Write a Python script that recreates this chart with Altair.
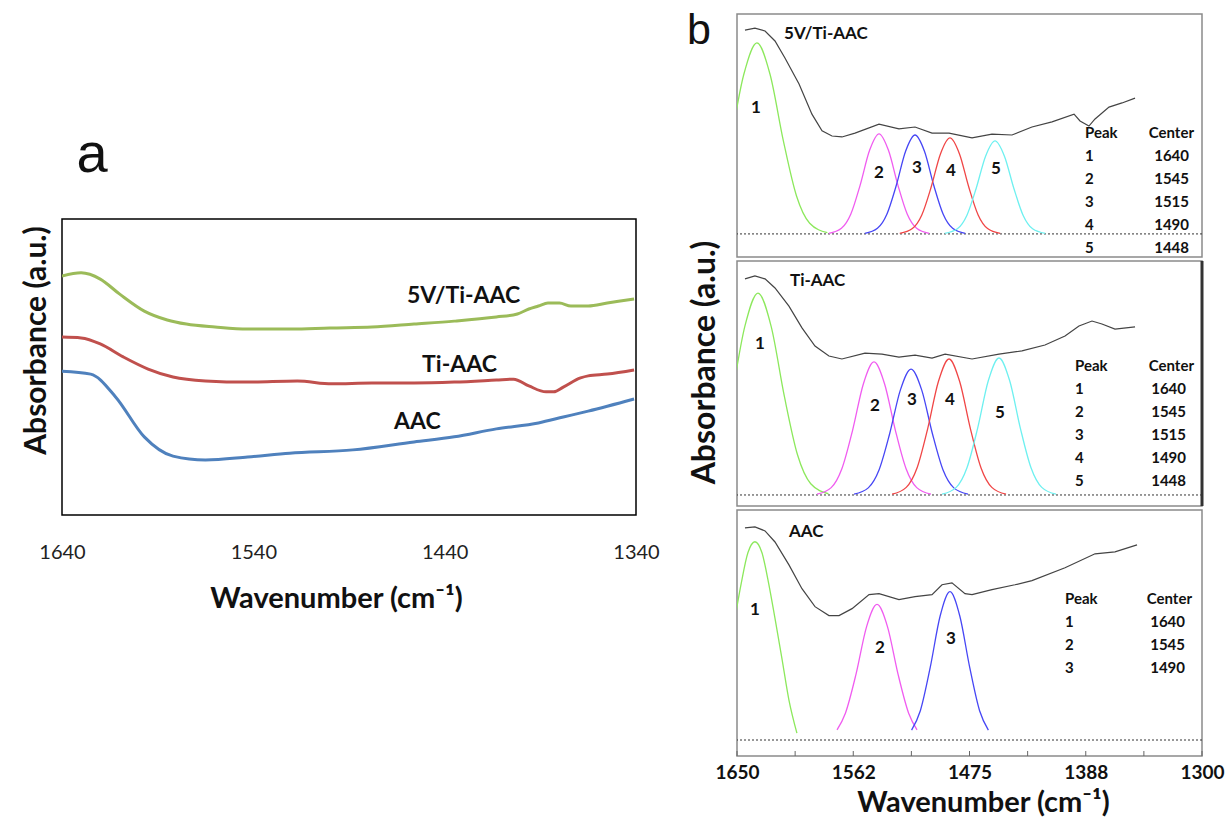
import altair as alt
import pandas as pd

FONT = "Lato"
LETTER_FONT = "Liberation Sans"
INK = "#111111"

# ---------------- panel a data ----------------
a_ticks = [1640, 1540, 1440, 1340]
a_names = ["5V/Ti-AAC", "Ti-AAC", "AAC"]
a_colors = ["#9BBB59", "#C0504D", "#4F81BD"]

a_wn_5v = [1640, 1630, 1620, 1610, 1597, 1585, 1575, 1560, 1543, 1520, 1500, 1478,
           1456, 1435, 1413, 1402, 1396, 1391, 1386, 1380, 1374, 1365, 1355, 1341]
a_abs_5v = [0.807, 0.818, 0.797, 0.747, 0.689, 0.659, 0.645, 0.635, 0.628, 0.628, 0.632, 0.635,
            0.645, 0.655, 0.669, 0.679, 0.696, 0.706, 0.716, 0.716, 0.706, 0.706, 0.716, 0.730]
a_wn_ti = [1640, 1630, 1620, 1608, 1595, 1582, 1565, 1543, 1517, 1499, 1478, 1456,
           1435, 1413, 1404, 1396, 1387, 1383, 1378, 1369, 1365, 1355, 1341]
a_abs_ti = [0.601, 0.598, 0.578, 0.534, 0.493, 0.466, 0.453, 0.449, 0.453, 0.443, 0.446, 0.446,
            0.449, 0.456, 0.459, 0.436, 0.416, 0.416, 0.432, 0.463, 0.470, 0.476, 0.490]
a_wn_aac = [1640, 1625, 1612, 1597, 1582, 1565, 1543, 1521, 1488, 1456, 1435, 1413,
            1391, 1378, 1365, 1341]
a_abs_aac = [0.486, 0.476, 0.399, 0.264, 0.199, 0.186, 0.196, 0.209, 0.220, 0.247, 0.264, 0.291,
             0.311, 0.331, 0.351, 0.392]

a_label_wn = [1459.7, 1451.8, 1466.5]
a_label_abs = [0.740, 0.507, 0.314]

# ---------------- panel b data ----------------
b_ticks = [1650, 1562.5, 1475, 1387.5, 1300]
b_tick_labels = ["1650", "1562", "1475", "1388", "1300"]
b_minor = [1650, 1606.25, 1562.5, 1518.75, 1475, 1431.25, 1387.5, 1343.75, 1300]
b_names = ["5V/Ti-AAC", "Ti-AAC", "AAC"]
b_name_wn = [1614.6, 1610.1, 1610.9]
b_name_abs = [0.918, 0.918, 0.911]
b_baselines = [0.095, 0.045, 0.065]
peak_colors = ["#8CE85C", "#F05CF0", "#4646F5", "#F04646", "#6EF0F0"]

top_wn = [1644.0, 1636.5, 1628.9, 1621.4, 1613.9, 1603.3, 1593.6, 1586.0, 1578.5, 1571.0,
          1561.2, 1543.1, 1528.1, 1516.0, 1503.2, 1490.4, 1473.1, 1458.1, 1443.0, 1428.0,
          1412.9, 1396.3, 1391.8, 1385.1, 1380.5, 1370.0, 1360.2, 1350.4]
top_abs = [0.934, 0.942, 0.930, 0.889, 0.819, 0.712, 0.588, 0.519, 0.498, 0.494,
           0.510, 0.547, 0.527, 0.535, 0.510, 0.510, 0.490, 0.506, 0.502, 0.535,
           0.556, 0.588, 0.560, 0.539, 0.568, 0.617, 0.634, 0.654]
mid_wn = [1644.0, 1636.5, 1628.9, 1621.4, 1610.9, 1601.1, 1591.3, 1580.8, 1571.0, 1553.7,
          1540.9, 1528.1, 1516.0, 1503.2, 1493.4, 1473.1, 1452.8, 1435.5, 1418.2, 1403.1,
          1392.6, 1382.8, 1375.3, 1365.5, 1350.4]
mid_abs = [0.927, 0.939, 0.927, 0.890, 0.816, 0.727, 0.653, 0.612, 0.600, 0.624,
           0.620, 0.608, 0.616, 0.604, 0.620, 0.600, 0.620, 0.633, 0.657, 0.694,
           0.735, 0.755, 0.743, 0.722, 0.731]
bot_wn = [1644.0, 1636.5, 1628.9, 1621.4, 1610.9, 1601.1, 1591.3, 1580.8, 1573.2, 1563.4,
          1550.6, 1543.1, 1528.1, 1516.0, 1503.2, 1495.7, 1488.2, 1478.4, 1473.1, 1458.1,
          1440.8, 1428.0, 1403.1, 1380.5, 1365.5, 1348.9]
bot_abs = [0.927, 0.931, 0.915, 0.870, 0.777, 0.680, 0.607, 0.571, 0.571, 0.599,
           0.656, 0.660, 0.636, 0.648, 0.656, 0.696, 0.704, 0.660, 0.656, 0.676,
           0.696, 0.713, 0.765, 0.822, 0.830, 0.858]

top_p1_wn = [1688.0, 1674.7, 1664.8, 1654.9, 1644.9, 1635.0, 1625.1, 1615.1, 1605.2, 1595.3, 1582.0]
top_p1_abs = [0.100, 0.139, 0.251, 0.478, 0.751, 0.881, 0.751, 0.478, 0.251, 0.139, 0.100]
top_p2_wn = [1580.9, 1571.4, 1564.3, 1557.3, 1550.2, 1543.1, 1536.0, 1528.9, 1521.9, 1514.8, 1505.3]
top_p2_abs = [0.097, 0.118, 0.177, 0.296, 0.439, 0.507, 0.439, 0.296, 0.177, 0.118, 0.097]
top_p3_wn = [1553.8, 1544.3, 1537.2, 1530.2, 1523.1, 1516.0, 1508.9, 1501.8, 1494.8, 1487.7, 1478.2]
top_p3_abs = [0.097, 0.118, 0.176, 0.293, 0.435, 0.502, 0.435, 0.293, 0.176, 0.118, 0.097]
top_p4_wn = [1527.5, 1518.0, 1510.9, 1503.9, 1496.8, 1489.7, 1482.6, 1475.5, 1468.5, 1461.4, 1451.9]
top_p4_abs = [0.097, 0.117, 0.173, 0.287, 0.425, 0.490, 0.425, 0.287, 0.173, 0.117, 0.097]
top_p5_wn = [1493.6, 1484.1, 1477.0, 1470.0, 1462.9, 1455.8, 1448.7, 1441.6, 1434.6, 1427.5, 1418.0]
top_p5_abs = [0.097, 0.116, 0.171, 0.282, 0.415, 0.478, 0.415, 0.282, 0.171, 0.116, 0.097]

mid_p1_wn = [1687.2, 1673.9, 1664.0, 1654.1, 1644.1, 1634.2, 1624.3, 1614.3, 1604.4, 1594.5, 1581.2]
mid_p1_abs = [0.050, 0.091, 0.208, 0.446, 0.733, 0.869, 0.733, 0.446, 0.208, 0.091, 0.050]
mid_p2_wn = [1589.8, 1579.1, 1571.0, 1563.0, 1554.9, 1546.9, 1538.9, 1530.8, 1522.8, 1514.7, 1504.0]
mid_p2_abs = [0.048, 0.075, 0.153, 0.309, 0.498, 0.588, 0.498, 0.309, 0.153, 0.075, 0.048]
mid_p3_wn = [1561.9, 1551.2, 1543.1, 1535.1, 1527.0, 1519.0, 1511.0, 1502.9, 1494.9, 1486.8, 1476.1]
mid_p3_abs = [0.048, 0.074, 0.147, 0.295, 0.474, 0.559, 0.474, 0.295, 0.147, 0.074, 0.048]
mid_p4_wn = [1533.3, 1522.6, 1514.5, 1506.5, 1498.4, 1490.4, 1482.4, 1474.3, 1466.3, 1458.2, 1447.5]
mid_p4_abs = [0.048, 0.076, 0.155, 0.315, 0.508, 0.600, 0.508, 0.315, 0.155, 0.076, 0.048]
mid_p5_wn = [1495.7, 1485.0, 1476.9, 1468.9, 1460.8, 1452.8, 1444.8, 1436.7, 1428.7, 1420.6, 1409.9]
mid_p5_abs = [0.048, 0.076, 0.156, 0.317, 0.512, 0.604, 0.512, 0.317, 0.156, 0.076, 0.048]

bot_p1_wn = [1668.1, 1662.1, 1656.8, 1651.6, 1647.0, 1641.8, 1636.5, 1631.2, 1626.0, 1621.4, 1616.2, 1610.9, 1604.9]
bot_p1_abs = [0.093, 0.227, 0.397, 0.559, 0.697, 0.826, 0.871, 0.826, 0.697, 0.559, 0.397, 0.227, 0.093]
bot_p2_wn = [1574.7, 1568.4, 1560.4, 1552.5, 1544.6, 1536.7, 1528.8, 1520.8, 1514.5]
bot_p2_abs = [0.106, 0.174, 0.333, 0.525, 0.616, 0.525, 0.333, 0.174, 0.106]
bot_p3_wn = [1518.6, 1512.0, 1504.6, 1497.1, 1489.7, 1482.3, 1474.8, 1467.4, 1460.8]
bot_p3_abs = [0.105, 0.184, 0.359, 0.569, 0.668, 0.569, 0.359, 0.184, 0.105]

top_lab_wn = [1635.7, 1543.1, 1514.5, 1489.0, 1455.1]
top_lab_abs = [0.613, 0.346, 0.366, 0.354, 0.362]
mid_lab_wn = [1632.7, 1546.1, 1518.3, 1489.7, 1452.0]
mid_lab_abs = [0.661, 0.408, 0.433, 0.433, 0.380]
bot_lab_wn = [1636.5, 1542.4, 1489.0]
bot_lab_abs = [0.595, 0.441, 0.474]

top_centers = [1640, 1545, 1515, 1490, 1448]
mid_centers = [1640, 1545, 1515, 1490, 1448]
bot_centers = [1640, 1545, 1490]

# ---------------- panel a ----------------
A_W, A_H = 574, 296

dfa = pd.concat([
    pd.DataFrame({"wn": w, "abs": v, "series": n, "col": c})
    for w, v, n, c in zip([a_wn_5v, a_wn_ti, a_wn_aac], [a_abs_5v, a_abs_ti, a_abs_aac],
                          a_names, a_colors)
])
dfa_lab = pd.DataFrame({"wn": a_label_wn, "abs": a_label_abs, "series": a_names})

xa = alt.X("wn:Q",
           scale=alt.Scale(domain=[1340, 1640], reverse=True, nice=False, zero=False),
           axis=alt.Axis(values=a_ticks, format="d", grid=False, ticks=False, tickSize=0,
                         domain=False, labelFont=FONT, labelFontSize=20, labelColor="#222222",
                         labelPadding=27, labelFlush=False,
                         title="Wavenumber (cm⁻¹)", titleFont=FONT, titleFontSize=29,
                         titleFontWeight="bold", titleColor=INK, titlePadding=22, titleX=274))
ya = alt.Y("abs:Q",
           scale=alt.Scale(domain=[0, 1], nice=False, zero=False),
           axis=alt.Axis(labels=False, ticks=False, tickSize=0, domain=False, grid=False,
                         title="Absorbance (a.u.)", titleFont=FONT, titleFontSize=30,
                         titleFontWeight="bold", titleColor=INK, titlePadding=11, titleY=121))

a_lines = alt.Chart(dfa).mark_line(strokeWidth=3, interpolate="monotone", clip=True).encode(
    x=xa, y=ya, detail="series:N", color=alt.Color("col:N", scale=None))
a_text = alt.Chart(dfa_lab).mark_text(font=FONT, fontSize=23, fontWeight="bold", align="left",
                                      baseline="middle", color=INK).encode(
    x=xa, y=ya, text="series:N")
panel_a = alt.layer(a_lines, a_text).properties(
    width=A_W, height=A_H, view=alt.ViewBackground(stroke="#000000", strokeWidth=1.5))

spacer = alt.Chart(pd.DataFrame({"t": ["a"]})).mark_text(
    font=LETTER_FONT, fontSize=56, align="center", baseline="middle", color=INK).encode(
    text="t:N", x=alt.value(30), y=alt.value(141)).properties(
    width=A_W, height=203, view=alt.ViewBackground(stroke="transparent"))

col_a = alt.vconcat(spacer, panel_a, spacing=0)

# ---------------- panel b ----------------
B_W = 465
tick_expr = " : ".join(f"datum.value == {v} ? '{t}'" for v, t in zip(b_ticks, b_tick_labels)) + " : ''"


def xb(show):
    if show:
        ax = alt.Axis(values=b_ticks, labelExpr=tick_expr, grid=False, ticks=False, tickSize=0,
                      domain=False, labelFont=FONT, labelFontSize=19, labelFontWeight="bold",
                      labelColor=INK, labelPadding=7, labelFlush=False,
                      title="Wavenumber (cm⁻¹)", titleFont=FONT, titleFontSize=29,
                      titleFontWeight="bold", titleColor=INK, titlePadding=6, titleX=246)
    else:
        ax = None
    return alt.X("wn:Q", scale=alt.Scale(domain=[1300, 1650], reverse=True, nice=False, zero=False),
                 axis=ax)


def yb(show):
    if show:
        ax = alt.Axis(labels=False, ticks=False, tickSize=0, domain=False, grid=False,
                      title="Absorbance (a.u.)", titleFont=FONT, titleFontSize=32,
                      titleFontWeight="bold", titleColor=INK, titlePadding=16, titleY=101)
    else:
        ax = None
    return alt.Y("abs:Q", scale=alt.Scale(domain=[0, 1], nice=False, zero=False), axis=ax)


def b_panel(idx, h, spec, peaks, labs, centers, tab_x, tab_y, show_x, show_y, letter):
    X = xb(show_x)
    Y = yb(show_y)
    one = pd.DataFrame({"k": [0]})
    dfs = pd.DataFrame({"wn": spec[0], "abs": spec[1]})
    dfp = pd.concat([pd.DataFrame({"wn": w, "abs": v, "peak": str(i + 1), "col": peak_colors[i]})
                     for i, (w, v) in enumerate(peaks)])
    ids = [str(i + 1) for i in range(len(peaks))]
    dfl = pd.DataFrame({"wn": labs[0], "abs": labs[1], "peak": ids})
    dfn = pd.DataFrame({"wn": [b_name_wn[idx]], "abs": [b_name_abs[idx]], "name": [b_names[idx]]})
    dfb = pd.DataFrame({"abs": [b_baselines[idx]]})

    layers = [
        alt.Chart(dfb).mark_rule(strokeDash=[2, 2], color="#333333", strokeWidth=1).encode(y=Y),
        alt.Chart(dfp).mark_line(strokeWidth=1.3, interpolate="monotone", clip=True).encode(
            x=X, y=Y, detail="peak:N", color=alt.Color("col:N", scale=None)),
        alt.Chart(dfs).mark_line(strokeWidth=1.2, color="#444444", clip=True).encode(x=X, y=Y),
        alt.Chart(dfl).mark_text(font=FONT, fontSize=17, fontWeight="bold", color=INK,
                                 baseline="middle").encode(x=X, y=Y, text="peak:N"),
        alt.Chart(dfn).mark_text(font=FONT, fontSize=17, fontWeight="bold", color=INK,
                                 align="left", baseline="middle").encode(x=X, y=Y, text="name:N"),
        alt.Chart(one).mark_text(font=FONT, fontSize=15, fontWeight="bold", color=INK,
                                 align="left", baseline="top", lineHeight=23).encode(
            x=alt.value(tab_x[0]), y=alt.value(tab_y), text=alt.value(["Peak"] + ids)),
        alt.Chart(one).mark_text(font=FONT, fontSize=15, fontWeight="bold", color=INK,
                                 align="right", baseline="top").encode(
            x=alt.value(tab_x[1]), y=alt.value(tab_y), text=alt.value("Center")),
        alt.Chart(one).mark_text(font=FONT, fontSize=15, fontWeight="bold", color=INK,
                                 align="right", baseline="top", lineHeight=23).encode(
            x=alt.value(tab_x[2]), y=alt.value(tab_y + 23), text=alt.value([str(c) for c in centers])),
    ]
    if show_x:
        layers.append(alt.Chart(pd.DataFrame({"wn": b_minor})).mark_rule(
            color="#666666", strokeWidth=1).encode(x=X, y=alt.value(h - 5), y2=alt.value(h)))
    if show_y:
        layers.append(alt.Chart(pd.DataFrame({"wn": [1300]})).mark_rule(
            color="#333333", strokeWidth=3).encode(x=X))
    if letter:
        layers.append(alt.Chart(one).mark_text(font=LETTER_FONT, fontSize=43, color=INK,
                                               align="center", baseline="alphabetic").encode(
            x=alt.value(-38), y=alt.value(30), text=alt.value(letter)))
    return alt.layer(*layers).properties(
        width=B_W, height=h, view=alt.ViewBackground(stroke="#8a8a8a", strokeWidth=1.5))


b_top = b_panel(0, 243, (top_wn, top_abs),
                [(top_p1_wn, top_p1_abs), (top_p2_wn, top_p2_abs), (top_p3_wn, top_p3_abs),
                 (top_p4_wn, top_p4_abs), (top_p5_wn, top_p5_abs)],
                (top_lab_wn, top_lab_abs), top_centers, (348, 457, 452), 112, False, False, "b")
b_mid = b_panel(1, 245, (mid_wn, mid_abs),
                [(mid_p1_wn, mid_p1_abs), (mid_p2_wn, mid_p2_abs), (mid_p3_wn, mid_p3_abs),
                 (mid_p4_wn, mid_p4_abs), (mid_p5_wn, mid_p5_abs)],
                (mid_lab_wn, mid_lab_abs), mid_centers, (338, 457, 449), 98, False, True, None)
b_bot = b_panel(2, 246, (bot_wn, bot_abs),
                [(bot_p1_wn, bot_p1_abs), (bot_p2_wn, bot_p2_abs), (bot_p3_wn, bot_p3_abs)],
                (bot_lab_wn, bot_lab_abs), bot_centers, (328, 455, 448), 82, True, False, None)

col_b = alt.vconcat(b_top, b_mid, b_bot, spacing=4, bounds="flush")

chart = alt.hconcat(col_a, col_b, spacing=26).properties(
    padding={"left": 20, "top": 9, "right": 0, "bottom": 0}
).configure(background="white")

chart.save("out.html", embed_options={"renderer": "svg", "actions": False})
